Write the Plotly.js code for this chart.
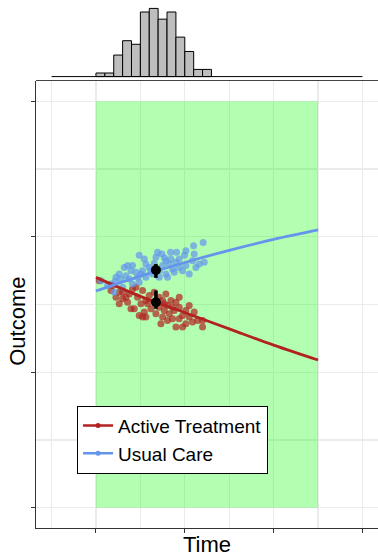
<!DOCTYPE html>
<html>
<head>
<meta charset="utf-8">
<script src="https://cdn.plot.ly/plotly-3.0.1.min.js"></script>
<style>html,body{margin:0;padding:0;background:#fff;}#chart{width:378px;height:557px;}</style>
</head>
<body>
<div id="chart"></div>
<script>
// ---- data ----
const seriesNames = ["Active Treatment", "Usual Care"];

const usualX = [1.207,1.099,0.487,0.742,0.840,0.907,1.106,0.997,0.772,0.937,0.562,0.656,0.356,0.412,0.319,0.525,0.450,0.262,0.337,0.375,0.217,0.281,0.487,0.787,0.862,0.937,1.012,1.087,1.162,1.219,0.825,0.712,0.787,0.900,0.637,0.562,0.469,0.412,0.206,0.056,0.169,0.300,0.712,0.806,0.881,0.975,1.050,0.600,0.544,0.675,1.012,0.619,0.750,0.506,0.394,0.844,0.694,0.225,0.131,1.125];
const usualY = [1.958,1.934,1.863,1.872,1.885,1.885,1.872,1.863,1.843,1.836,1.799,1.804,1.787,1.787,1.774,1.750,1.738,1.725,1.713,1.689,1.672,1.689,1.664,1.725,1.762,1.774,1.787,1.823,1.799,1.811,1.799,1.750,1.823,1.811,1.725,1.701,1.701,1.652,1.591,1.676,1.652,1.627,1.701,1.701,1.738,1.750,1.725,1.774,1.836,1.848,1.897,1.750,1.787,1.725,1.750,1.836,1.885,1.701,1.640,1.774];

const activeX = [0.037,0.187,0.262,0.300,0.375,0.412,0.469,0.506,0.562,0.600,0.525,0.450,0.356,0.262,0.394,0.544,0.562,0.712,0.769,0.787,0.844,0.900,0.937,0.881,0.825,0.806,0.862,0.937,0.975,1.012,1.050,1.106,1.144,1.200,1.087,0.900,0.975,0.750,0.675,0.619,0.487,0.431,0.337,0.225,0.169,0.712,0.656,0.769,1.012,1.200,1.050,0.731,0.525,0.581,0.806,0.937,0.675,0.862,0.750,0.300];
const activeY = [1.676,1.640,1.591,1.542,1.578,1.615,1.554,1.505,1.529,1.566,1.603,1.627,1.517,1.505,1.468,1.444,1.407,1.480,1.505,1.578,1.529,1.517,1.480,1.456,1.431,1.382,1.395,1.395,1.419,1.456,1.493,1.444,1.382,1.333,1.370,1.333,1.333,1.407,1.431,1.468,1.419,1.468,1.554,1.554,1.603,1.554,1.591,1.456,1.358,1.382,1.407,1.358,1.407,1.505,1.493,1.554,1.517,1.480,1.529,1.591];

// fitted trajectories
const fitTime = [0, 0.5, 1.0, 1.5, 2.0, 2.5];
const fitActive = [1.70, 1.56, 1.44, 1.32, 1.20, 1.09];
const fitUsual  = [1.60, 1.71, 1.81, 1.90, 1.98, 2.05];

// group means with intervals
const meanTime = [0.675, 0.675];
const meanValue = [1.517, 1.755];
const meanErrPlus = [0.086, 0.044];
const meanErrMinus = [0.049, 0.059];

// marginal histogram of time
const histBinCenters = [0.05,0.15,0.25,0.35,0.45,0.55,0.65,0.75,0.85,0.95,1.05,1.15,1.25];
const histCounts = [1,1,6,10,9,18,19,16,18,11,7,2,2];
const histBinWidth = 0.1;
const histExtent = [-0.5, 3.0];

// observation window
const windowTime = [0, 2.5];
const windowOutcome = [0, 3];

const xRange = [-0.675, 3.175];
const yRange = [-0.15, 3.15];
const majorTicks = [0, 1, 2, 3];

// ---- traces ----
const red = '#B22222', blue = '#6495ED';
const traces = [
  {x: activeX, y: activeY, type: 'scatter', mode: 'markers', showlegend: false,
   marker: {color: red, size: 7, opacity: 0.7}, xaxis: 'x', yaxis: 'y', hoverinfo: 'skip'},
  {x: usualX, y: usualY, type: 'scatter', mode: 'markers', showlegend: false,
   marker: {color: blue, size: 7, opacity: 0.7}, xaxis: 'x', yaxis: 'y', hoverinfo: 'skip'},
  {x: fitTime, y: fitActive, type: 'scatter', mode: 'lines', showlegend: false,
   line: {color: red, width: 2.8, shape: 'spline'}, xaxis: 'x', yaxis: 'y'},
  {x: fitTime, y: fitUsual, type: 'scatter', mode: 'lines', showlegend: false,
   line: {color: blue, width: 2.8, shape: 'spline'}, xaxis: 'x', yaxis: 'y'},
  {x: meanTime, y: meanValue, type: 'scatter', mode: 'markers', showlegend: false,
   marker: {color: 'black', size: 10},
   error_y: {type: 'data', symmetric: false, array: meanErrPlus, arrayminus: meanErrMinus,
             color: 'black', thickness: 3.5, width: 0},
   xaxis: 'x', yaxis: 'y'},
  // legend entries
  {x: [null], y: [null], type: 'scatter', mode: 'lines+markers', name: seriesNames[0],
   line: {color: red, width: 2.5}, marker: {color: red, size: 5}, xaxis: 'x', yaxis: 'y'},
  {x: [null], y: [null], type: 'scatter', mode: 'lines+markers', name: seriesNames[1],
   line: {color: blue, width: 2.5}, marker: {color: blue, size: 5}, xaxis: 'x', yaxis: 'y'},
  // marginal histogram
  {x: histExtent, y: [0, 0], type: 'scatter', mode: 'lines', showlegend: false,
   line: {color: 'black', width: 1}, xaxis: 'x2', yaxis: 'y2'},
  {x: histBinCenters, y: histCounts, type: 'bar', width: histBinWidth, showlegend: false,
   marker: {color: '#BEBEBE', line: {color: 'black', width: 1}}, xaxis: 'x2', yaxis: 'y2'}
];

const gridCol = '#EBEBEB';
const layout = {
  width: 378, height: 557,
  margin: {l: 36, r: 0, t: 5, b: 29, pad: 0},
  paper_bgcolor: 'white', plot_bgcolor: 'white',
  font: {family: 'Liberation Sans, Arial, sans-serif', color: 'black'},
  showlegend: true,
  legend: {x: 0.12, y: 0.234, xanchor: 'left', yanchor: 'top',
           bgcolor: 'white', bordercolor: 'black', borderwidth: 1,
           font: {size: 19, color: 'black'}, traceorder: 'normal', itemwidth: 30},
  bargap: 0,
  xaxis: {domain: [0, 1], anchor: 'y', range: xRange, tickvals: majorTicks, showticklabels: false,
          ticks: 'outside', ticklen: 4, tickcolor: '#333', tickwidth: 1,
          showline: true, linecolor: '#333', linewidth: 1, zeroline: false,
          showgrid: true, gridcolor: gridCol, gridwidth: 1.2,
          minor: {dtick: 0.5, tick0: 0.5, showgrid: true, gridcolor: gridCol, gridwidth: 1.2, ticks: ''},
          title: {text: 'Time', font: {size: 22, color: 'black'}, standoff: 5}, automargin: false},
  yaxis: {domain: [0, 0.8547], anchor: 'x', range: yRange, tickvals: majorTicks, showticklabels: false,
          ticks: 'outside', ticklen: 4, tickcolor: '#333', tickwidth: 1,
          showline: true, linecolor: '#333', linewidth: 1, zeroline: false,
          showgrid: true, gridcolor: gridCol, gridwidth: 1.2,
          minor: {dtick: 0.5, tick0: 0.5, showgrid: true, gridcolor: gridCol, gridwidth: 1.2, ticks: ''},
          title: {text: ''}, automargin: false},
  xaxis2: {domain: [0, 1], anchor: 'y2', range: xRange, showticklabels: false, ticks: '',
           showline: true, linecolor: '#444', linewidth: 1.2, showgrid: false, zeroline: false},
  yaxis2: {domain: [0.8566, 1], anchor: 'x2', range: [-0.95, 19.95], visible: false,
           showgrid: false, zeroline: false},
  annotations: [
    {text: 'Outcome', xref: 'paper', yref: 'paper', x: -0.053, y: 0.396,
     xanchor: 'center', yanchor: 'middle', textangle: -90, showarrow: false,
     font: {size: 22, color: 'black'}}
  ],
  shapes: [
    {type: 'rect', xref: 'x', yref: 'y', x0: windowTime[0], x1: windowTime[1],
     y0: windowOutcome[0], y1: windowOutcome[1], fillcolor: 'rgba(0,255,0,0.3)',
     line: {width: 0}, layer: 'between'}
  ]
};

Plotly.newPlot('chart', traces, layout, {staticPlot: true, displayModeBar: false});
</script>
</body>
</html>
